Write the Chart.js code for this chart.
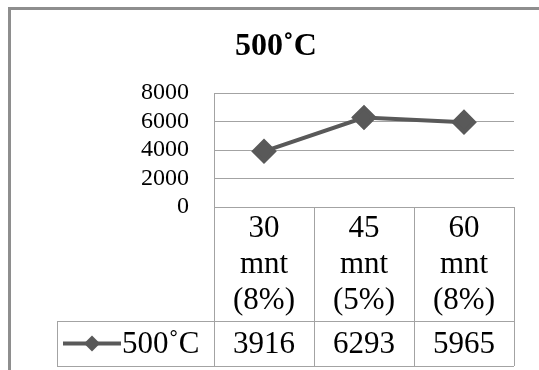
<!DOCTYPE html>
<html>
<head>
<meta charset="utf-8">
<script src="https://cdn.jsdelivr.net/npm/chart.js@4.4.0/dist/chart.umd.min.js"></script>
<style>
  html, body { margin: 0; padding: 0; background: #fff; }
  #wrap { position: relative; width: 539px; height: 370px; overflow: hidden; }
  #frame { position: absolute; left: 8px; top: 7px; width: 700px; height: 500px;
           border-left: 3px solid #8e8e8e; border-top: 3px solid #8e8e8e; }
  canvas { position: absolute; left: 0; top: 0; }
</style>
</head>
<body>
<div id="wrap">
  <div id="frame"></div>
  <canvas id="chart" width="539" height="370"></canvas>
</div>
<script>
const seriesName = "500˚C";
const categories = [["30", "mnt", "(8%)"], ["45", "mnt", "(5%)"], ["60", "mnt", "(8%)"]];
const values = [3916, 6293, 5965];
const yTicks = [0, 2000, 4000, 6000, 8000];

const serif = "'Liberation Serif', 'Times New Roman', serif";
const lineColor = "#595959";
const gridColor = "#a3a3a3";

// draws the data table under the plot (Excel style)
const dataTable = {
  id: "dataTable",
  afterDraw(chart) {
    const ctx = chart.ctx;
    const x = chart.scales.x;
    const area = chart.chartArea;
    const half = (x.getPixelForValue(1) - x.getPixelForValue(0)) / 2;
    const top = area.bottom;
    const rowSplit = top + 114;
    const bottom = 366;
    const legendLeft = 57;
    const right = x.getPixelForValue(values.length - 1) + half;

    ctx.save();
    ctx.strokeStyle = gridColor;
    ctx.lineWidth = 1;
    ctx.beginPath();
    for (let i = 0; i <= values.length; i++) {
      const px = Math.round(x.getPixelForValue(i) - half) + 0.5;
      ctx.moveTo(px, top);
      ctx.lineTo(px, bottom);
    }
    ctx.moveTo(legendLeft + 0.5, rowSplit);
    ctx.lineTo(legendLeft + 0.5, bottom);
    ctx.moveTo(legendLeft, rowSplit + 0.5);
    ctx.lineTo(right, rowSplit + 0.5);
    ctx.moveTo(legendLeft, bottom + 0.5);
    ctx.lineTo(right, bottom + 0.5);
    ctx.stroke();

    const midY = (rowSplit + bottom) / 2;
    ctx.fillStyle = "#000";
    ctx.font = "31px " + serif;
    ctx.textAlign = "center";
    ctx.textBaseline = "middle";
    values.forEach((v, i) => {
      ctx.fillText(String(v), x.getPixelForValue(i), midY + 1);
    });

    // legend key
    ctx.strokeStyle = lineColor;
    ctx.lineWidth = 4;
    ctx.beginPath();
    ctx.moveTo(63, midY);
    ctx.lineTo(121, midY);
    ctx.stroke();
    ctx.fillStyle = lineColor;
    ctx.beginPath();
    ctx.moveTo(92, midY - 8);
    ctx.lineTo(100, midY);
    ctx.lineTo(92, midY + 8);
    ctx.lineTo(84, midY);
    ctx.closePath();
    ctx.fill();
    ctx.fillStyle = "#000";
    ctx.textAlign = "left";
    ctx.fillText(seriesName, 122, midY + 1);
    ctx.restore();
  }
};

new Chart(document.getElementById("chart"), {
  type: "line",
  data: {
    labels: categories,
    datasets: [{
      label: seriesName,
      data: values,
      borderColor: lineColor,
      borderWidth: 4,
      pointStyle: "rectRot",
      pointRadius: 10,
      pointBackgroundColor: lineColor,
      pointBorderColor: lineColor,
      tension: 0
    }]
  },
  options: {
    responsive: false,
    animation: false,
    layout: { padding: { left: 38, right: 25, top: 20, bottom: 0 } },
    plugins: {
      legend: { display: false },
      tooltip: { enabled: false },
      title: {
        display: true,
        text: seriesName,
        color: "#000",
        font: { family: serif, size: 32, weight: "bold", lineHeight: 1.1 },
        padding: { top: 9, bottom: 29 }
      }
    },
    scales: {
      x: {
        offset: true,
        grid: { display: false },
        border: { display: true, color: gridColor, width: 1 },
        ticks: {
          color: "#000",
          padding: -4,
          maxRotation: 0,
          autoSkip: false,
          font: { family: serif, size: 31, lineHeight: 1.16 }
        },
        afterFit(scale) { scale.height = 163; }
      },
      y: {
        min: 0,
        max: 8000,
        afterBuildTicks(scale) { scale.ticks = yTicks.map(v => ({ value: v })); },
        grid: { color: gridColor, drawTicks: false },
        border: { display: true, color: gridColor, width: 1 },
        ticks: {
          color: "#000",
          padding: 25,
          autoSkip: false,
          callback: (v) => String(v),
          font: { family: serif, size: 24, lineHeight: 1 }
        },
        afterFit(scale) { scale.width = 176; }
      }
    }
  },
  plugins: [dataTable]
});
</script>
</body>
</html>
